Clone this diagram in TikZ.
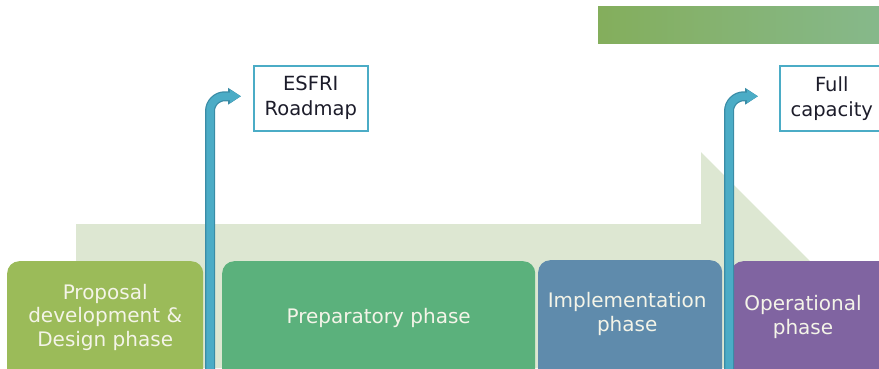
\documentclass[tikz,border=0pt]{standalone}
\usepackage{fontspec}
\setmainfont{DejaVu Sans}
\usetikzlibrary{arrows.meta,calc}
\definecolor{barL}{HTML}{84AE5C}
\definecolor{barR}{HTML}{86B98E}
\definecolor{bgarrow}{HTML}{DDE7D2}
\definecolor{cA}{HTML}{9BBB59}
\definecolor{cB}{HTML}{5BB17C}
\definecolor{cC}{HTML}{5F8BAC}
\definecolor{cD}{HTML}{8064A1}
\definecolor{blueL}{HTML}{4BACC6}
\definecolor{blueD}{HTML}{3A8CA6}
\definecolor{boxtext}{HTML}{F4F4E8}
\definecolor{calltext}{HTML}{1C1C2A}
\begin{document}
\begin{tikzpicture}[x=1pt,y=-1pt,
  phase/.style={fill=#1, draw=none, rounded corners=12pt, inner sep=0pt, anchor=north west},
  phasetext/.style={text=boxtext, align=center, font=\fontsize{20}{23.5}\selectfont, inner sep=0pt},
  callout/.style={draw=blueL, line width=1.5pt, fill=white, inner sep=0pt, anchor=north west,
     text=calltext, align=center, font=\fontsize{19.5}{25}\selectfont},
  flowout/.style={draw=blueD, line width=10pt, rounded corners=15pt, -{Triangle[length=13pt,width=16pt]}},
  flowin/.style={draw=blueL, line width=7.5pt, rounded corners=15pt, -{Triangle[length=11pt,width=12.5pt]}}
]
\useasboundingbox (0,0) rectangle (879,368);
\begin{scope}
\clip (0,0) rectangle (879,368);
% header bar
\node[shading=axis, left color=barL, right color=barR, minimum width=300pt, minimum height=37pt,
      inner sep=0pt, anchor=north west] (bar) at (598,6) {};
% background arrow
\fill[bgarrow] (76,224) -- (701,224) -- (701,152) -- (917,368) -- (76,368) -- cycle;
% phase boxes
\node[phase=cA, minimum width=196pt, minimum height=140pt] (b1) at (7,261) {};
\node[phase=cB, minimum width=313pt, minimum height=140pt] (b2) at (222,261) {};
\node[phase=cC, minimum width=184pt, minimum height=140pt] (b3) at (538,260) {};
\node[phase=cD, minimum width=170pt, minimum height=140pt] (b4) at (731,261) {};
\node[phasetext] (t1) at ($(b1.north)+(0,56)$) {Proposal\\development \&\\Design phase};
\node[phasetext] (t2) at ($(b2.north)+(0,57)$) {Preparatory phase};
\node[phasetext] (t3) at ($(b3.north)+(-3,54)$) {Implementation\\phase};
\node[phasetext] (t4) at ($(b4.north west)+(72,56)$) {Operational\\phase};
% callouts
\node[callout, minimum width=114pt, minimum height=65pt] (esfri) at (253,65) {ESFRI\\Roadmap};
\node[callout, minimum width=104pt, minimum height=65pt] (full) at (779,65) {Full\\capacity};
% milestone arrows
\coordinate (s1) at (210,385);
\coordinate (s2) at (729,385);
\draw[flowout, shorten >=12pt] (s1) |- ($(esfri.west)+(0,-2)$);
\draw[flowin, shorten >=12pt] (s1) |- ($(esfri.west)+(0,-2)$);
\draw[flowout, shorten >=21pt] (s2) |- ($(full.west)+(0,-2)$);
\draw[flowin, shorten >=21pt] (s2) |- ($(full.west)+(0,-2)$);
\end{scope}
\end{tikzpicture}
\end{document}
